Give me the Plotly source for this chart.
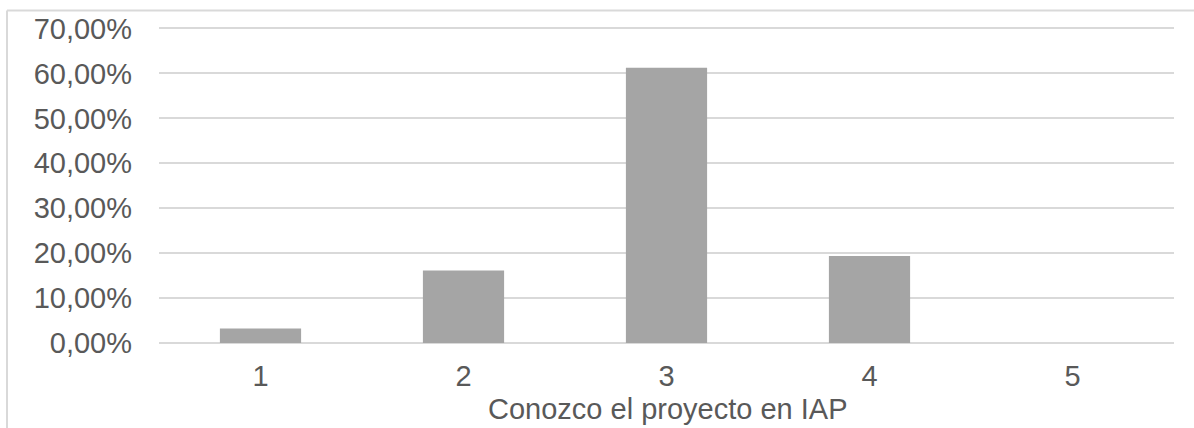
import plotly.graph_objects as go

categories = ["1", "2", "3", "4", "5"]
values = [0.0323, 0.1613, 0.6129, 0.1935, 0.0]
y_ticks = [0, 0.1, 0.2, 0.3, 0.4, 0.5, 0.6, 0.7]
x_title = "Conozco el proyecto en IAP"

FONT = "Liberation Sans, Arial, sans-serif"
TXT = "#595959"
GRID = "#d9d9d9"
FS = 29

fig = go.Figure(go.Bar(
    x=categories, y=values, width=0.4,
    marker=dict(color="#a5a5a5", line=dict(width=0)),
))

W, H = 1194, 428
L, R, T, B = 159, 20, 23.5, 85
pw, ph = W - L - R, H - T - B

def px(x):
    return (x - L) / pw

def py(y):
    return (H - B - y) / ph

fig.update_layout(
    width=W, height=H,
    margin=dict(l=L, r=R, t=T, b=B, pad=0),
    paper_bgcolor="white", plot_bgcolor="white",
    separators=",.",
    showlegend=False,
    font=dict(family=FONT, size=FS, color=TXT),
    xaxis=dict(
        type="category", showgrid=False, zeroline=False, showline=False,
        ticks="", tickfont=dict(size=FS, color=TXT), ticklabelstandoff=13,
    ),
    yaxis=dict(
        range=[0, 0.71], tickvals=y_ticks, tickformat=".2%",
        showgrid=True, gridcolor=GRID, gridwidth=2,
        zeroline=True, zerolinecolor=GRID, zerolinewidth=2,
        showline=False, ticks="", tickfont=dict(size=FS, color=TXT),
        ticklabelstandoff=26,
    ),
    annotations=[dict(
        text=x_title, xref="paper", yref="paper",
        x=px(667), y=py(409), xanchor="center", yanchor="middle",
        showarrow=False, font=dict(family=FONT, size=FS, color=TXT),
    )],
    shapes=[
        dict(type="line", xref="paper", yref="paper",
             x0=px(7), x1=px(1200), y0=py(10), y1=py(10),
             line=dict(color=GRID, width=2)),
        dict(type="line", xref="paper", yref="paper",
             x0=px(7), x1=px(7), y0=py(10), y1=py(440),
             line=dict(color=GRID, width=2)),
    ],
)

fig.write_html("out.html", config={"displayModeBar": False})
